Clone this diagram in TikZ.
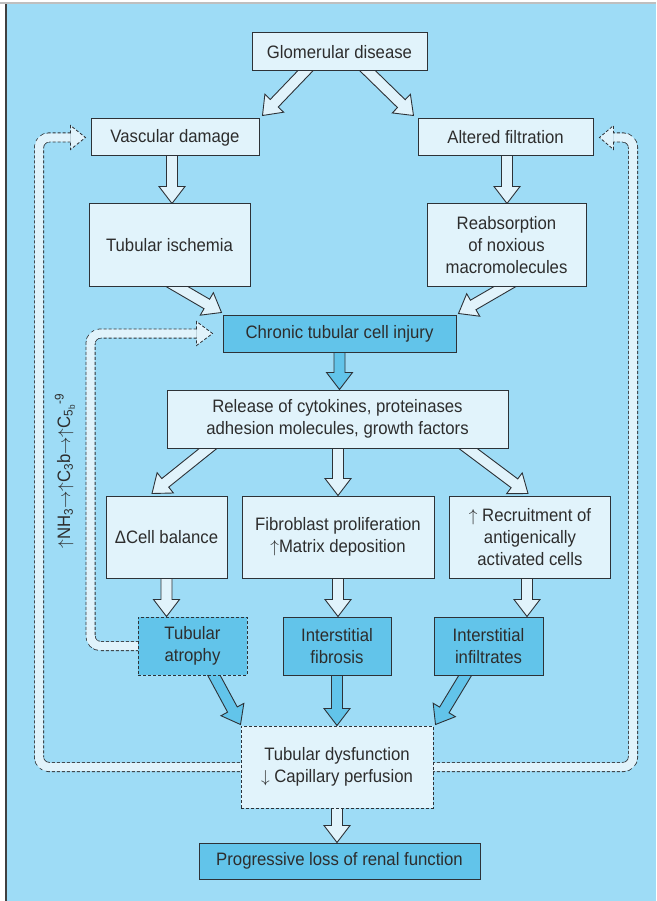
\documentclass[tikz,border=0pt]{standalone}
\usepackage{fontspec}
\setmainfont{Liberation Sans}[FakeStretch=0.93]
\usetikzlibrary{calc,backgrounds}

\definecolor{bg}{RGB}{158,220,246}
\definecolor{pale}{RGB}{225,243,251}
\definecolor{deep}{RGB}{98,196,234}
\definecolor{edge}{RGB}{45,50,55}
\definecolor{ink}{RGB}{45,45,45}

\newcommand{\up}{$\uparrow$}
\newcommand{\dn}{$\downarrow$}
\newcommand{\ra}{$\rightarrow$}

\tikzset{
  box/.style={draw=edge, line width=1pt, fill=pale, text=ink, align=center, inner sep=0pt,
    font=\fontsize{18}{22}\selectfont},
  darkbox/.style={box, fill=deep},
  dashbox/.style={dash pattern=on 3pt off 2pt},
  fat/.style={draw=edge, line width=0.9pt, fill=#1, line join=miter,
    to path={($(\tikztostart)!5.5pt!90:(\tikztotarget)$)
      -- ($(\tikztotarget)!17pt!(\tikztostart)!5.5pt!90:(\tikztotarget)$)
      -- ($(\tikztotarget)!17pt!(\tikztostart)!13pt!90:(\tikztotarget)$)
      -- (\tikztotarget)
      -- ($(\tikztotarget)!17pt!(\tikztostart)!13pt!-90:(\tikztotarget)$)
      -- ($(\tikztotarget)!17pt!(\tikztostart)!5.5pt!-90:(\tikztotarget)$)
      -- ($(\tikztostart)!5.5pt!-90:(\tikztotarget)$) -- cycle}},
  fat/.default=pale,
  pipeedge/.style={draw=edge, line width=10pt, dash pattern=on 3pt off 2pt, rounded corners=10pt},
  pipecore/.style={draw=pale, line width=8.4pt, rounded corners=10pt},
  pipehead/.style={draw=edge, line width=0.8pt, fill=pale, dash pattern=on 3pt off 2pt,
    to path={($(\tikztostart)!4.2pt!90:(\tikztotarget)$)
      -- ($(\tikztostart)!12pt!90:(\tikztotarget)$) -- (\tikztotarget)
      -- ($(\tikztostart)!12pt!-90:(\tikztotarget)$)
      -- ($(\tikztostart)!4.2pt!-90:(\tikztotarget)$)}},
}

\begin{document}
\begin{tikzpicture}[x=1pt,y=-1pt]
  \useasboundingbox (0,0) rectangle (656,901);

  \node[box, minimum width=175pt, minimum height=38pt] (glom) at (339.5,52) {Glomerular disease};
  \node[box, minimum width=168pt, minimum height=37pt] (vasc) at (175,137.5) {Vascular damage};
  \node[box, minimum width=175pt, minimum height=37pt] (alt) at (505.5,137.5) {Altered filtration};
  \node[box, minimum width=161pt, minimum height=82pt] (isch) at (169.5,245) {Tubular ischemia};
  \node[box, minimum width=159pt, minimum height=82pt] (reab) at (506.5,245) {Reabsorption\\of noxious\\macromolecules};
  \node[darkbox, minimum width=233pt, minimum height=37pt] (chron) at (339.5,333.5) {Chronic tubular cell injury};
  \node[box, minimum width=341pt, minimum height=58pt] (rel) at (337.5,419) {Release of cytokines, proteinases\\adhesion molecules, growth factors};
  \node[box, minimum width=121pt, minimum height=82pt] (dcell) at (166.5,537) {ΔCell balance};
  \node[box, minimum width=192pt, minimum height=82pt] (fib) at (338,537) {Fibroblast proliferation\\\up Matrix deposition};
  \node[box, minimum width=161pt, minimum height=82pt] (recr) at (530,537) {\up\ Recruitment of\\antigenically\\activated cells};
  \node[darkbox, dashbox, minimum width=109pt, minimum height=58pt] (atr) at (192.5,646) {Tubular\\atrophy};
  \node[darkbox, minimum width=108pt, minimum height=58pt] (fbr) at (337,646) {Interstitial\\fibrosis};
  \node[darkbox, minimum width=109pt, minimum height=58pt] (inf) at (488.5,646) {Interstitial\\infiltrates};
  \node[box, dashbox, minimum width=192pt, minimum height=82pt] (dys) at (337,767) {Tubular dysfunction\\\dn\ Capillary perfusion};
  \node[darkbox, minimum width=281pt, minimum height=36pt] (prog) at (339.5,861) {Progressive loss of renal function};

  \node[rotate=90, text=ink, font=\fontsize{18}{20}\selectfont] (chem) at (65,471)
    {\up NH\textsubscript{3}\ra\up C\textsubscript{3}b\ra\up C\textsubscript{5\textsubscript{b}}\textsuperscript{-9}};

  \coordinate (lft) at (39,0);
  \coordinate (rgt) at (633,0);
  \coordinate (inr) at (90.5,0);

  \begin{scope}[on background layer]
    \fill[bg] (6,4) rectangle (656,901);
    \fill[black!25] (0,2.5) rectangle (656,4);
    \fill[black!75] (5,4) rectangle (6.5,901);

    \draw[pipeedge] ([xshift=-20pt]vasc.west) -| (lft |- dys.center) -- (rgt |- dys.center) |- ([xshift=20pt]alt.east);
    \draw[pipecore] ([xshift=-20pt]vasc.west) -| (lft |- dys.center) -- (rgt |- dys.center) |- ([xshift=20pt]alt.east);
    \draw[pipeedge] ([xshift=-26pt]chron.west) -| (inr |- atr.center) -- (atr.center);
    \draw[pipecore] ([xshift=-26pt]chron.west) -| (inr |- atr.center) -- (atr.center);
    \draw[pipehead] ([xshift=-20pt]vasc.west) to ([xshift=-5pt]vasc.west);
    \draw[pipehead] ([xshift=20pt]alt.east) to ([xshift=6pt]alt.east);
    \draw[pipehead] ([xshift=-26pt]chron.west) to ([xshift=-10pt]chron.west);

    \draw[fat] ([shift={(-19.5,-16)}]glom.south) to ([shift={(3,-3)}]vasc.north east);
    \draw[fat] ([shift={(12.5,-16)}]glom.south) to ([shift={(-4,-3)}]alt.north west);
    \draw[fat] ([xshift=-3pt]vasc.center) to ([xshift=-3pt]vasc.center |- isch.north);
    \draw[fat] ([xshift=1.5pt]alt.center) to ([xshift=1.5pt]alt.center |- reab.north);
    \draw[fat] ([shift={(-11.5,-11)}]isch.south) to ([shift={(-1,-2)}]chron.north west);
    \draw[fat] ([shift={(17.5,-11)}]reab.south) to ([shift={(2,-1)}]chron.north east);
    \draw[fat=deep] (chron.center) to (chron.center |- rel.north);
    \draw[fat] ([shift={(-114.5,-12)}]rel.south) to ([shift={(-14.5,-2)}]dcell.north);
    \draw[fat] (fib.north |- rel.center) to (fib.north);
    \draw[fat] ([shift={(114.5,-12)}]rel.south) to ([shift={(-2,-2)}]recr.north);
    \draw[fat] (dcell.center) to (dcell.center |- atr.north);
    \draw[fat] (fib.center) to (fib.center |- fbr.north);
    \draw[fat] ([xshift=-3pt]recr.center) to ([xshift=-3pt]recr.center |- inf.north);
    \draw[fat=deep] ([shift={(14.5,-13)}]atr.south) to ([shift={(0,-1)}]dys.north west);
    \draw[fat=deep] (fbr.center) to (fbr.center |- dys.north);
    \draw[fat=deep] ([shift={(-15.5,-13)}]inf.south) to ([shift={(2,-1)}]dys.north east);
    \draw[fat] (dys.center) to (dys.center |- prog.north);
  \end{scope}
\end{tikzpicture}
\end{document}
